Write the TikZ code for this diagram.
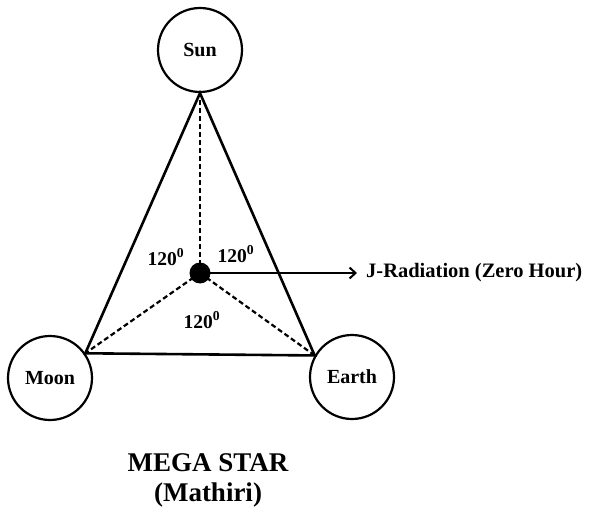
\documentclass[tikz,border=0pt]{standalone}
\usepackage{fontspec}
\setmainfont{Liberation Serif}
\usetikzlibrary{arrows.meta,positioning}

\begin{document}
\begin{tikzpicture}[x=1pt,y=-1pt]
    \tikzset{body/.style={circle,draw,line width=2.2pt,minimum size=84pt,inner sep=0pt,
      font=\fontsize{20}{22}\selectfont\bfseries},
      edge/.style={line width=2.6pt},
      spoke/.style={line width=2.2pt,dash pattern=on 5pt off 3pt},
      angl/.style={font=\fontsize{19.5}{21}\selectfont\bfseries}}
    \useasboundingbox (0,0) rectangle (589,513);
    % the three bodies
    \node[body] (sun) at (200,50) {Sun};
    \node[body] (moon) at (50,378) {Moon};
    \node[body] (earth) at (352,377) {Earth};
    \node[circle,fill=black,minimum size=21pt,inner sep=0pt] (hub) at (200,273) {};
    % triangle and spokes
    \draw[edge] (sun.south) -- (moon.35) -- (earth.150) -- cycle;
    \draw[spoke] (hub.center) -- (sun.south);
    \draw[spoke] (hub.center) -- (moon.35);
    \draw[spoke] (hub.center) -- (earth.150);
    % angles
    \node[angl] (a1) at (166,257) {120\textsuperscript{0}};
    \node[angl] (a2) at (236,254) {120\textsuperscript{0}};
    \node[angl] (a3) at (202,320) {120\textsuperscript{0}};
    % radiation
    \coordinate (jr) at (357,273);
    \draw[line width=2pt,-{Straight Barb[length=6pt,width=11pt]}] (hub.center) -- (jr);
    \node[anchor=west,inner sep=0pt,font=\fontsize{20.5}{22}\selectfont\bfseries] (jrtext) at (366,273) {J-Radiation (Zero Hour)};
    % title
    \node[font=\fontsize{27}{29}\selectfont\bfseries] (title) at (208,463) {MEGA STAR};
    \node[font=\fontsize{27}{29}\selectfont\bfseries] (sub) at (208,495) {(Mathiri)};
  \end{tikzpicture}
\end{document}
